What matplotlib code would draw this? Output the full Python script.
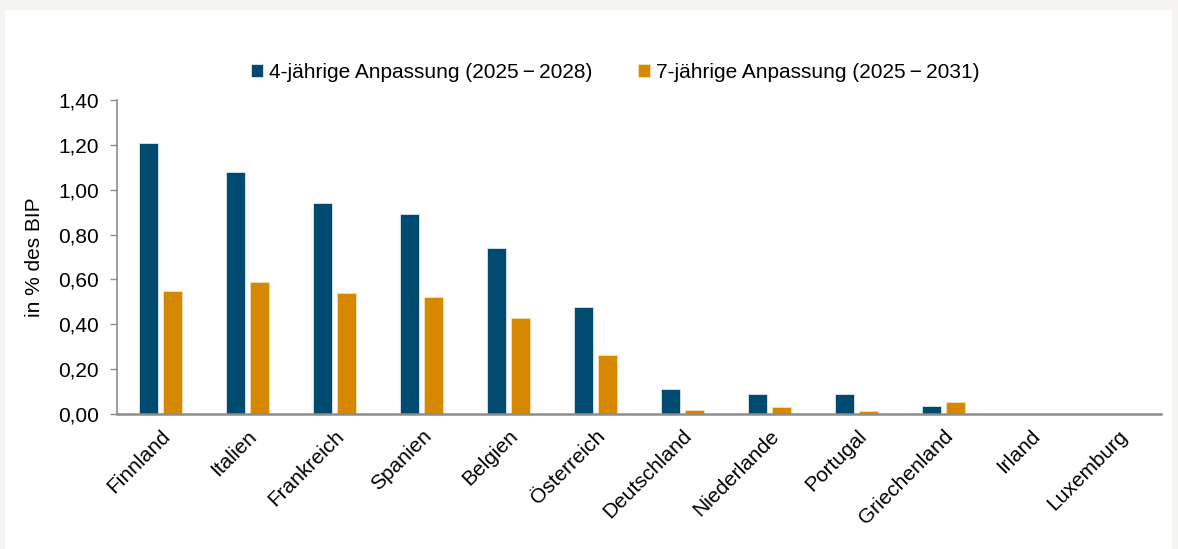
import numpy as np
import matplotlib
matplotlib.use('Agg')
import matplotlib.pyplot as plt
from matplotlib.patches import Rectangle
from matplotlib.ticker import FuncFormatter

plt.rcParams['font.family'] = ['Liberation Sans', 'DejaVu Sans']

# Data
countries = ['Finnland', 'Italien', 'Frankreich', 'Spanien', 'Belgien', 'Österreich',
             'Deutschland', 'Niederlande', 'Portugal', 'Griechenland', 'Irland', 'Luxemburg']
adj_4y = [1.21, 1.08, 0.94, 0.89, 0.74, 0.475, 0.11, 0.09, 0.09, 0.035, 0.0, 0.0]
adj_7y = [0.55, 0.59, 0.54, 0.52, 0.43, 0.262, 0.018, 0.033, 0.012, 0.053, 0.0, 0.0]
label_4y = '4-jährige Anpassung (2025\u2009\u2212\u20092028)'
label_7y = '7-jährige Anpassung (2025\u2009\u2212\u20092031)'

blue = '#00496f'
orange = '#d68900'
axis_grey = '#8c8c8c'
fs = 15

fig = plt.figure(figsize=(11.78, 5.49), dpi=100)
fig.patch.set_facecolor('#f5f4f0')
# white panel on the grey page
fig.patches.append(Rectangle((5 / 1178, 0), 1167 / 1178, 1 - 10 / 549,
                             transform=fig.transFigure, facecolor='white',
                             edgecolor='none', zorder=-5))

ax = fig.add_axes([117 / 1178, 1 - 414 / 549, (1161 - 117) / 1178, (414 - 100) / 549])
ax.set_facecolor('none')

x = np.arange(len(countries))
w = 0.225
ax.bar(x - 0.14, adj_4y, w, color=blue, edgecolor='#dfe6ee', linewidth=0.6, label=label_4y)
ax.bar(x + 0.14, adj_7y, w, color=orange, edgecolor='#f3dfb8', linewidth=0.6, label=label_7y)

ax.set_xlim(-0.5, len(countries) - 0.5)
ax.set_ylim(0, 1.4)
ax.set_yticks(np.arange(0, 1.41, 0.2))
ax.yaxis.set_major_formatter(FuncFormatter(lambda v, p: f'{v:.2f}'.replace('.', ',')))
ax.tick_params(axis='y', direction='out', length=5, width=1, color=axis_grey,
               labelsize=fs, pad=8)
ax.set_xticks(x)
ax.set_xticklabels(countries, rotation=45, ha='right', rotation_mode='anchor', fontsize=fs)
ax.tick_params(axis='x', length=0, pad=9)

for side in ['top', 'right']:
    ax.spines[side].set_visible(False)
ax.spines['left'].set_color(axis_grey)
ax.spines['left'].set_linewidth(1.2)
ax.spines['bottom'].set_color(axis_grey)
ax.spines['bottom'].set_linewidth(1.8)

ax.set_ylabel('in % des BIP', fontsize=fs, labelpad=10)

handles, labels = ax.get_legend_handles_labels()
fig.legend(handles, labels, loc='center', bbox_to_anchor=(615 / 1178, 1 - 72 / 549),
           ncol=2, frameon=False, fontsize=fs, handlelength=0.6, handleheight=0.6,
           handletextpad=0.25, columnspacing=2.2)

fig.savefig('out.png', dpi=100, facecolor=fig.get_facecolor())
